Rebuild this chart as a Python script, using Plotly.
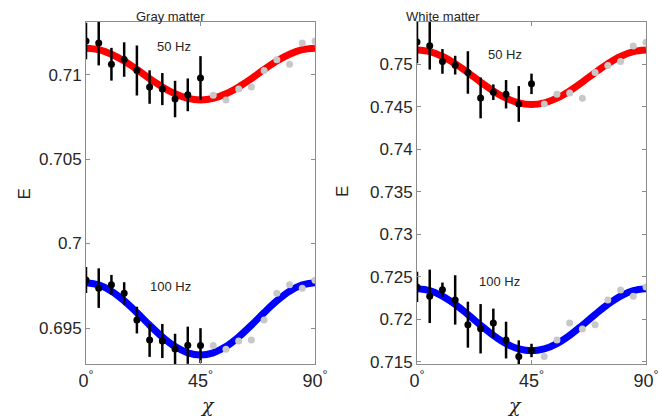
import plotly.graph_objects as go

# angles (deg)
chi_meas = [0, 5, 10, 15, 20, 25, 30, 35, 40, 45]
chi_refl = [50, 55, 60, 65, 70, 75, 80, 85, 90]
chi_fit = [0, 5, 10, 15, 20, 25, 30, 35, 40, 45, 50, 55, 60, 65, 70, 75, 80, 85, 90]

# Gray matter, 50 Hz
gm50_E = [0.71199, 0.71186, 0.71061, 0.71089, 0.71024, 0.70926, 0.70914, 0.70855, 0.70880, 0.70979]
gm50_err = [0.00108, 0.00132, 0.00097, 0.00102, 0.00148, 0.00099, 0.00095, 0.00108, 0.00097, 0.00130]
gm50_refl = [0.70878, 0.70850, 0.70915, 0.70926, 0.71024, 0.71087, 0.71061, 0.71186, 0.71199]
gm50_fit = [0.71156, 0.71147, 0.71120, 0.71080, 0.71030, 0.70976, 0.70927, 0.70886, 0.70859, 0.70850,
            0.70859, 0.70886, 0.70927, 0.70976, 0.71030, 0.71080, 0.71120, 0.71147, 0.71156]

# Gray matter, 100 Hz
gm100_E = [0.69784, 0.69736, 0.69756, 0.69705, 0.69547, 0.69429, 0.69423, 0.69376, 0.69398, 0.69396]
gm100_err = [0.00077, 0.00117, 0.00058, 0.00066, 0.00079, 0.00100, 0.00101, 0.00090, 0.00110, 0.00103]
gm100_refl = [0.69396, 0.69374, 0.69423, 0.69429, 0.69547, 0.69705, 0.69756, 0.69735, 0.69782]
gm100_fit = [0.69768, 0.69755, 0.69718, 0.69661, 0.69591, 0.69517, 0.69447, 0.69390, 0.69353, 0.69340,
             0.69353, 0.69390, 0.69447, 0.69517, 0.69591, 0.69661, 0.69718, 0.69755, 0.69768]

# White matter, 50 Hz
wm50_E = [0.75259, 0.75216, 0.75032, 0.74988, 0.74902, 0.74603, 0.74670, 0.74646, 0.74532, 0.74768]
wm50_err = [0.00250, 0.00280, 0.00145, 0.00110, 0.00250, 0.00240, 0.00092, 0.00167, 0.00210, 0.00120]
wm50_refl = [0.74532, 0.74646, 0.74662, 0.74599, 0.74902, 0.74985, 0.75032, 0.75212, 0.75256]
wm50_fit = [0.75165, 0.75146, 0.75090, 0.75005, 0.74901, 0.74789, 0.74685, 0.74600, 0.74544, 0.74525,
            0.74544, 0.74600, 0.74685, 0.74789, 0.74901, 0.75005, 0.75090, 0.75146, 0.75165]

# White matter, 100 Hz
wm100_E = [0.72382, 0.72271, 0.72350, 0.72229, 0.71938, 0.71890, 0.71957, 0.71757, 0.71564, 0.71635]
wm100_err = [0.00177, 0.00314, 0.00083, 0.00290, 0.00270, 0.00290, 0.00170, 0.00216, 0.00190, 0.00079]
wm100_refl = [0.71564, 0.71757, 0.71957, 0.71887, 0.71938, 0.72229, 0.72347, 0.72271, 0.72382]
wm100_fit = [0.72359, 0.72337, 0.72274, 0.72177, 0.72058, 0.71932, 0.71813, 0.71716, 0.71653, 0.71631,
             0.71653, 0.71716, 0.71813, 0.71932, 0.72058, 0.72177, 0.72274, 0.72337, 0.72359]

x_ticks = [0, 45, 90]
x_ticktext = ["0<sup>°</sup>", "45<sup>°</sup>", "90<sup>°</sup>"]
gm_yticks = [0.695, 0.7, 0.705, 0.71]
gm_yticktext = ["0.695", "0.7", "0.705", "0.71"]
wm_yticks = [0.715, 0.72, 0.725, 0.73, 0.735, 0.74, 0.745, 0.75]
wm_yticktext = ["0.715", "0.72", "0.725", "0.73", "0.735", "0.74", "0.745", "0.75"]

FONT = "Liberation Sans, Arial, Helvetica, sans-serif"
AXCOL = "#8c8c8c"
TXT = "#262626"

fig = go.Figure()


def add_panel(xa, ya, sets):
    for fit, refl, meas, err, col in sets:
        fig.add_trace(go.Scatter(
            x=chi_fit, y=fit, mode='lines', line=dict(color=col, width=7, shape='spline'),
            xaxis=xa, yaxis=ya, showlegend=False, hoverinfo='skip'))
        fig.add_trace(go.Scatter(
            x=chi_refl, y=refl, mode='markers', marker=dict(color='#c8c8c8', size=7),
            xaxis=xa, yaxis=ya, showlegend=False))
        fig.add_trace(go.Scatter(
            x=chi_meas, y=meas, mode='markers', marker=dict(color='black', size=7),
            error_y=dict(type='data', array=err, color='black', thickness=2.5, width=0),
            xaxis=xa, yaxis=ya, showlegend=False))


add_panel('x', 'y', [(gm50_fit, gm50_refl, gm50_E, gm50_err, '#ff0000'),
                     (gm100_fit, gm100_refl, gm100_E, gm100_err, '#0000ff')])
add_panel('x2', 'y2', [(wm50_fit, wm50_refl, wm50_E, wm50_err, '#ff0000'),
                       (wm100_fit, wm100_refl, wm100_E, wm100_err, '#0000ff')])

xcommon = dict(range=[0, 90], tickvals=x_ticks, ticktext=x_ticktext, ticks='inside', ticklen=4,
               tickcolor=AXCOL, showline=True, linecolor=AXCOL, linewidth=1, mirror='ticks',
               showgrid=False, zeroline=False, tickfont=dict(size=18, color=TXT),
               automargin=False)
ycommon = dict(ticks='inside', ticklen=4, tickcolor=AXCOL, showline=True, linecolor=AXCOL,
               linewidth=1, mirror='ticks', showgrid=False, zeroline=False,
               tickfont=dict(size=17, color=TXT), automargin=False)

lbl = dict(xref='paper', yref='paper', showarrow=False)

fig.update_layout(
    width=660, height=418,
    margin=dict(l=0, r=0, t=0, b=0),
    plot_bgcolor='white', paper_bgcolor='white',
    font=dict(family=FONT, color=TXT),
    xaxis=dict(domain=[86 / 660, 315 / 660], anchor='y', **xcommon),
    xaxis2=dict(domain=[417 / 660, 646 / 660], anchor='y2', **xcommon),
    yaxis=dict(domain=[1 - 364 / 418, 1 - 22 / 418], anchor='x', range=[0.69287, 0.71311],
               tickvals=gm_yticks, ticktext=gm_yticktext, **ycommon),
    yaxis2=dict(domain=[1 - 364 / 418, 1 - 22 / 418], anchor='x2', range=[0.71476, 0.75495],
                tickvals=wm_yticks, ticktext=wm_yticktext, **ycommon),
    annotations=[
        dict(text='Gray matter', x=134 / 660, y=1 - 7 / 418, font=dict(size=13), **lbl),
        dict(text='White matter', x=482 / 660, y=1 - 7 / 418, font=dict(size=13), **lbl),
        dict(text='E', x=12 / 660, y=1 - 194 / 418, textangle=-90, font=dict(size=17), **lbl),
        dict(text='E', x=343 / 660, y=1 - 192 / 418, textangle=-90, font=dict(size=17), **lbl),
        dict(text='<i>χ</i>', x=198 / 660, y=0, yanchor='bottom',
             font=dict(size=19, family='DejaVu Serif'), **lbl),
        dict(text='<i>χ</i>', x=524 / 660, y=0, yanchor='bottom',
             font=dict(size=19, family='DejaVu Serif'), **lbl),
        dict(text='50 Hz', x=34.6, y=0.71164, xref='x', yref='y', showarrow=False, font=dict(size=13)),
        dict(text='100 Hz', x=33.4, y=0.69744, xref='x', yref='y', showarrow=False, font=dict(size=13)),
        dict(text='50 Hz', x=34.6, y=0.75114, xref='x2', yref='y2', showarrow=False, font=dict(size=13)),
        dict(text='100 Hz', x=32.6, y=0.72444, xref='x2', yref='y2', showarrow=False, font=dict(size=13)),
    ],
)

# page body has a default 8px margin; drop it so the figure sits at the window corner
fig.write_html("out.html", config={'displayModeBar': False},
               post_script="document.body.style.margin='0';")
